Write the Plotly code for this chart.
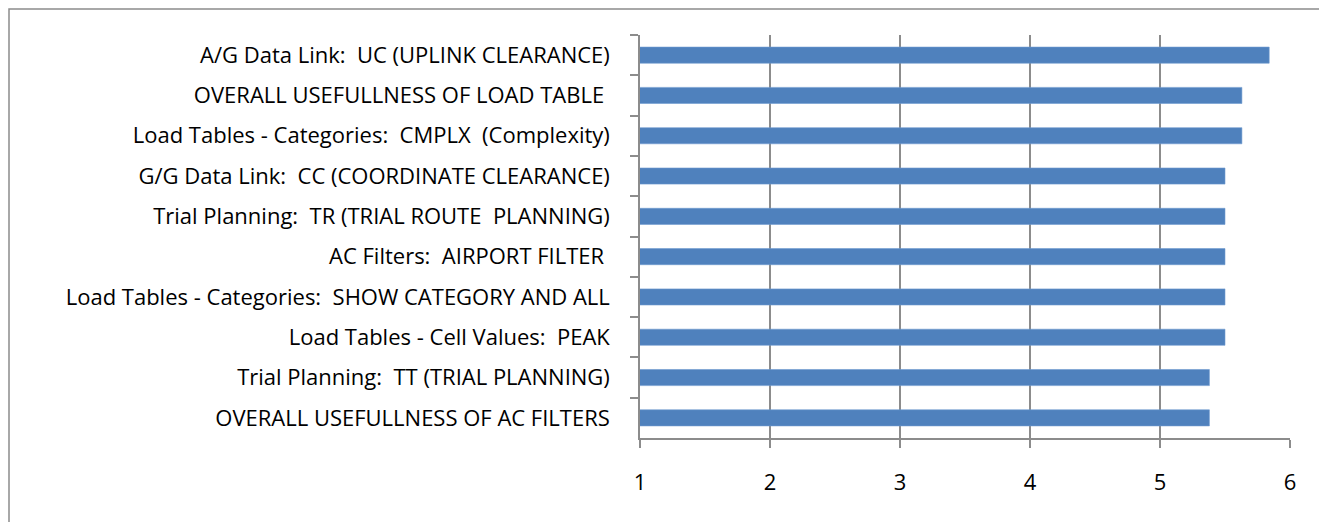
import plotly.graph_objects as go

NBSP = "\u00a0"

# categories, top to bottom as shown
categorias = [
    "A/G Data Link: " + NBSP + "UC (UPLINK CLEARANCE)",
    "OVERALL USEFULLNESS OF LOAD TABLE" + NBSP,
    "Load Tables - Categories: " + NBSP + "CMPLX " + NBSP + "(Complexity)",
    "G/G Data Link: " + NBSP + "CC (COORDINATE CLEARANCE)",
    "Trial Planning: " + NBSP + "TR (TRIAL ROUTE " + NBSP + "PLANNING)",
    "AC Filters: " + NBSP + "AIRPORT FILTER" + NBSP,
    "Load Tables - Categories: " + NBSP + "SHOW CATEGORY AND ALL",
    "Load Tables - Cell Values: " + NBSP + "PEAK",
    "Trial Planning: " + NBSP + "TT (TRIAL PLANNING)",
    "OVERALL USEFULLNESS OF AC FILTERS",
]
valores = [5.84, 5.63, 5.63, 5.5, 5.5, 5.5, 5.5, 5.5, 5.38, 5.38]
x_ticks = [1, 2, 3, 4, 5, 6]

# the page body adds an 8px offset, so work in figure pixels
OFF = 8
W, H = 1327 - OFF, 522 - OFF
L, R, T, B = 640 - OFF, 1290 - OFF, 35 - OFF, 438 - OFF  # plot area

_FONTE = dict(family="'Open Sans', Lato, sans-serif", size=22, color="#000000")
_CINZA = "#8c8c8c"

fig = go.Figure()
fig.add_trace(go.Bar(
    y=categorias,
    x=valores,
    orientation="h",
    marker_color="#4F81BD",
    marker_line=dict(color="#6f9bd0", width=0.6),
    hovertemplate="%{y}: %{x}<extra></extra>",
))


def px_x(p):
    return (p - L) / (R - L)


def px_y(p):
    return (B - p) / (B - T)


fig.update_layout(
    width=W,
    height=H,
    margin=dict(l=L, r=W - R, t=T, b=H - B, pad=0),
    paper_bgcolor="#ffffff",
    plot_bgcolor="#ffffff",
    font=_FONTE,
    bargap=0.6,
    showlegend=False,
    # outer chart border (as close to the page edge as the svg allows)
    shapes=[dict(
        type="rect", xref="paper", yref="paper",
        x0=px_x(1), x1=px_x(1324 - OFF), y0=px_y(540), y1=px_y(1),
        line=dict(color=_CINZA, width=1.5), fillcolor="rgba(0,0,0,0)",
        layer="below",
    )],
)
fig.update_xaxes(
    range=[1, 6],
    tickvals=x_ticks,
    showgrid=True, gridcolor=_CINZA, gridwidth=1.5,
    showline=True, linecolor=_CINZA, linewidth=1.5,
    ticks="outside", ticklen=8, tickcolor=_CINZA, tickwidth=1.5,
    ticklabelstandoff=16,
    zeroline=False,
    fixedrange=True,
)
fig.update_yaxes(
    autorange="reversed",
    showgrid=False,
    showline=True, linecolor=_CINZA, linewidth=1.5,
    ticks="outside", ticklen=8, tickcolor=_CINZA, tickwidth=1.5,
    tickson="boundaries",
    ticklabelstandoff=24,
    fixedrange=True,
)

fig.write_html("out.html")
